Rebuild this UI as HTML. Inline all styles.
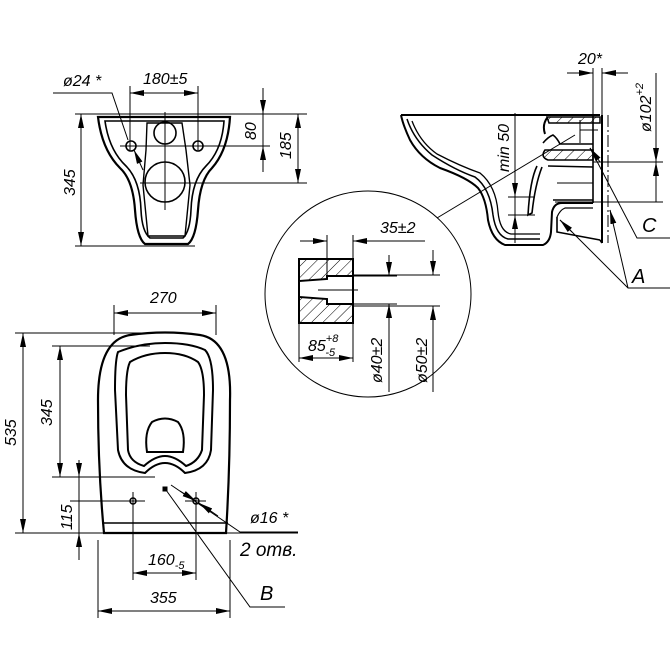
<!DOCTYPE html>
<html><head><meta charset="utf-8"><style>
html,body{margin:0;padding:0;background:#fff}
svg{display:block}
text{font-family:"Liberation Sans",sans-serif;font-style:italic;fill:#000}
</style></head><body>
<svg width="670" height="671" viewBox="0 0 670 671" xmlns="http://www.w3.org/2000/svg">
<defs>
<marker id="ar" markerWidth="14" markerHeight="6" refX="14" refY="3" orient="auto" markerUnits="userSpaceOnUse"><path d="M0,0 L14,3 L0,6 z" fill="#000"/></marker>
<marker id="al" markerWidth="14" markerHeight="6" refX="0" refY="3" orient="auto" markerUnits="userSpaceOnUse"><path d="M14,0 L0,3 L14,6 z" fill="#000"/></marker>
<pattern id="h" width="8" height="8" patternUnits="userSpaceOnUse" patternTransform="rotate(45)"><line x1="0" y1="0" x2="0" y2="8" stroke="#000" stroke-width="1"/></pattern>
</defs>
<g fill="none" stroke="#000" stroke-width="1">
<!-- TOP-LEFT VIEW -->
<line x1="75" y1="114" x2="307" y2="114"/>
<line x1="75" y1="246" x2="195" y2="246"/>
<line x1="81" y1="114" x2="81" y2="246" marker-start="url(#al)" marker-end="url(#ar)"/>
<line x1="130" y1="86" x2="130" y2="150"/><line x1="198" y1="86" x2="198" y2="150"/>
<line x1="130" y1="93" x2="198" y2="93" marker-start="url(#al)" marker-end="url(#ar)"/>
<polyline points="53,93 112,93 128,140"/>
<line x1="134" y1="150" x2="143" y2="170" marker-start="url(#al)"/>
<path d="M98,117 L230,117 Q228,150 212,168 Q200,180 198,210 Q196,238 188,244 L145,244 Q137,238 135,210 Q133,180 120,168 Q102,150 98,117 Z" stroke-width="2.2"/>
<path d="M105,121 L224,121 Q222,150 206,166 Q192,180 191,210 Q190,232 183,238 L150,238 Q142,232 141,210 Q140,180 126,166 Q109,150 105,121 Z" stroke-width="1.6"/>
<path d="M147,123 L182,123 L186,150 L190,185 L185,236 L148,236 L143,185 L146,150 Z" stroke-width="1.4"/>
<circle cx="131" cy="146" r="5" stroke-width="1.6"/><circle cx="198" cy="146" r="5" stroke-width="1.6"/>
<circle cx="165" cy="133" r="11" stroke-width="1.6"/><circle cx="165" cy="182" r="20" stroke-width="1.6"/>
<line x1="120" y1="146" x2="270" y2="146"/><line x1="165" y1="112" x2="165" y2="210"/>
<line x1="140" y1="183" x2="307" y2="183"/>
<line x1="263" y1="88" x2="263" y2="114" marker-end="url(#ar)"/>
<line x1="263" y1="172" x2="263" y2="146" marker-end="url(#ar)"/>
<line x1="263" y1="114" x2="263" y2="146"/>
<line x1="298" y1="114" x2="298" y2="183" marker-start="url(#al)" marker-end="url(#ar)"/>

<!-- SIDE VIEW -->
<line x1="401" y1="115" x2="600" y2="115" stroke-width="2"/>
<path d="M401,115 Q403,125 410,140 Q420,158 440,168 Q468,178 478,188 Q486,198 488,220 Q492,240 505,245 L543,245 Q550,242 551,232 L552,212 Q554,203 562,203 L593,203" stroke-width="2"/>
<path d="M407,119 Q414,140 432,155 Q455,170 475,177 Q490,188 493,215 Q496,236 508,239 L540,239" stroke-width="1.5"/>
<path d="M412,121 Q420,142 437,154 Q460,166 480,173 Q496,186 498,212 Q500,232 511,234 L540,234" stroke-width="1.3"/>
<path d="M557,217 L557,232 L600,240" stroke-width="1.6"/>
<path d="M557,217 Q560,210 565,208 L593,208" stroke-width="1.2"/>
<line x1="602" y1="115" x2="602" y2="243" stroke-width="2"/>
<line x1="593" y1="115" x2="593" y2="203" stroke-width="1.6"/>
<line x1="600" y1="240" x2="602" y2="243" stroke-width="1.6"/>
<line x1="608" y1="115" x2="608" y2="243" stroke-dasharray="12,3,2,3"/>
<!-- upper pipe band -->
<path d="M547,117 L600,117 L600,123 L549,123 Z" fill="url(#h)" stroke-width="1.5"/>
<path d="M547,118 Q542,125 545,134" stroke-width="2"/>
<path d="M543,143 Q548,137 553,135 Q557,138 560,144 L593,144" stroke-width="1.6"/>
<path d="M545,150 L593,150 L593,160 L548,160 Q540,157 545,150 Z" fill="url(#h)" stroke-width="1.6"/>
<line x1="548" y1="166" x2="593" y2="167" stroke-width="1.4"/>
<path d="M537,166 Q530,180 528,215 L532,213 Q535,185 542,167" stroke-width="1.6"/>
<line x1="580" y1="120" x2="580" y2="143"/><line x1="580" y1="130" x2="598" y2="130"/>
<line x1="553" y1="200" x2="593" y2="200" stroke-width="1.4"/>
<line x1="557" y1="183" x2="593" y2="183"/>
<line x1="593" y1="68" x2="593" y2="115"/><line x1="602" y1="68" x2="602" y2="115"/>
<line x1="567" y1="73" x2="593" y2="73" marker-end="url(#ar)"/>
<line x1="628" y1="73" x2="602" y2="73" marker-end="url(#ar)"/>
<line x1="593" y1="162" x2="663" y2="162"/><line x1="555" y1="202" x2="663" y2="202"/>
<line x1="656" y1="73" x2="656" y2="162" marker-end="url(#ar)"/>
<line x1="656" y1="202" x2="656" y2="162" marker-end="url(#ar)"/>
<line x1="515" y1="113" x2="515" y2="243"/>
<line x1="515" y1="175" x2="515" y2="197" marker-end="url(#ar)"/>
<line x1="515" y1="232" x2="515" y2="215" marker-end="url(#ar)"/>
<line x1="508" y1="197" x2="535" y2="197"/><line x1="508" y1="215" x2="535" y2="215"/>
<polyline points="590,148 637,238 670,238"/>
<line x1="590" y1="148" x2="600" y2="162" marker-start="url(#al)"/>
<polyline points="560,220 628,288 670,288"/><polyline points="610,210 628,288"/>
<line x1="560" y1="220" x2="572" y2="232" marker-start="url(#al)"/>
<line x1="610" y1="210" x2="613" y2="222" marker-start="url(#al)"/>

<!-- DETAIL CIRCLE -->
<circle cx="368" cy="294" r="103"/>
<line x1="437" y1="218" x2="575" y2="135"/>
<rect x="299" y="259" width="54" height="64" fill="url(#h)" stroke-width="2"/>
<path d="M327,276 L353,276 L353,304 L327,304 L327,299 L299,297 L299,281 L327,279 Z" fill="#fff" stroke-width="2"/>
<line x1="318" y1="290" x2="358" y2="290"/>
<line x1="353" y1="276" x2="397" y2="276"/><line x1="353" y1="304" x2="397" y2="304"/>
<line x1="353" y1="275" x2="440" y2="275"/><line x1="353" y1="306" x2="440" y2="306"/>
<line x1="327" y1="235" x2="327" y2="276"/><line x1="353" y1="235" x2="353" y2="259"/>
<line x1="300" y1="241" x2="327" y2="241" marker-end="url(#ar)"/>
<line x1="425" y1="241" x2="353" y2="241" marker-end="url(#ar)"/>
<line x1="299" y1="323" x2="299" y2="362"/><line x1="353" y1="323" x2="353" y2="362"/>
<line x1="299" y1="358" x2="353" y2="358" marker-start="url(#al)" marker-end="url(#ar)"/>
<line x1="389" y1="255" x2="389" y2="276" marker-end="url(#ar)"/>
<line x1="389" y1="392" x2="389" y2="304" marker-end="url(#ar)"/>
<line x1="433" y1="250" x2="433" y2="275" marker-end="url(#ar)"/>
<line x1="433" y1="392" x2="433" y2="306" marker-end="url(#ar)"/>

<!-- BOTTOM VIEW -->
<line x1="114" y1="305" x2="114" y2="335"/><line x1="216" y1="305" x2="216" y2="335"/>
<line x1="114" y1="313" x2="216" y2="313" marker-start="url(#al)" marker-end="url(#ar)"/>
<path d="M104,533 Q98,470 98,400 Q98,340 130,335 Q165,330 200,335 Q232,340 230,400 Q230,470 226,533 Z" stroke-width="2.2"/>
<line x1="102" y1="523" x2="228" y2="523" stroke-width="1.5"/>
<path d="M118,352 Q140,343 165,343 Q190,343 205,350 Q213,358 213,390 L211,450 Q208,470 185,473 Q175,463 165,463 Q155,463 145,473 Q122,470 118,450 L115,390 Q115,360 118,352 Z" stroke-width="2"/>
<path d="M130,362 Q145,353 165,353 Q185,353 198,362 Q204,370 204,395 L202,450 Q198,462 186,466 Q175,456 165,456 Q155,456 144,466 Q130,462 128,450 L126,395 Q126,370 130,362 Z" stroke-width="2"/>
<path d="M152,422 Q165,415 178,422 Q186,432 183,452 L147,452 Q144,432 152,422 Z" stroke-width="2"/>
<line x1="15" y1="333" x2="150" y2="333"/><line x1="15" y1="533" x2="298" y2="533"/>
<line x1="23" y1="333" x2="23" y2="533" marker-start="url(#al)" marker-end="url(#ar)"/>
<line x1="52" y1="346" x2="150" y2="346"/><line x1="52" y1="477" x2="155" y2="477"/>
<line x1="60" y1="346" x2="60" y2="477" marker-start="url(#al)" marker-end="url(#ar)"/>
<line x1="70" y1="501" x2="145" y2="501"/><line x1="185" y1="501" x2="206" y2="501"/>
<line x1="79" y1="460" x2="79" y2="477" marker-end="url(#ar)"/>
<line x1="79" y1="560" x2="79" y2="533" marker-end="url(#ar)"/>
<line x1="79" y1="477" x2="79" y2="533"/>
<circle cx="133" cy="501" r="3" stroke-width="1.5"/><circle cx="196" cy="501" r="3" stroke-width="1.5"/>
<line x1="133" y1="492" x2="133" y2="580"/><line x1="196" y1="492" x2="196" y2="580"/>
<rect x="163" y="487" width="4" height="4" fill="#000"/>
<line x1="133" y1="573" x2="196" y2="573" marker-start="url(#al)" marker-end="url(#ar)"/>
<line x1="98" y1="540" x2="98" y2="618"/><line x1="230" y1="540" x2="230" y2="618"/>
<line x1="98" y1="611" x2="230" y2="611" marker-start="url(#al)" marker-end="url(#ar)"/>
<polyline points="171,485 240,532 298,532"/>
<line x1="180" y1="491" x2="196" y2="501" marker-end="url(#ar)"/>
<line x1="218" y1="516" x2="199" y2="503" marker-end="url(#ar)"/>
<polyline points="166,490 250,607 285,607"/>
</g>
<g font-size="16">
<text x="63" y="86">ø24 *</text>
<text x="143" y="84">180±5</text>
<text transform="translate(75,196) rotate(-90)">345</text>
<text transform="translate(256,140) rotate(-90)">80</text>
<text transform="translate(291,159) rotate(-90)">185</text>
<text x="578" y="64">20*</text>
<text transform="translate(651,132) rotate(-90)">ø102<tspan font-size="11" dy="-8">+2</tspan></text>
<text transform="translate(509,172) rotate(-90)">min 50</text>
<text x="642" y="232" font-size="20">C</text>
<text x="632" y="283" font-size="20">A</text>
<text x="380" y="233">35±2</text>
<text x="308" y="351">85<tspan font-size="11" dy="-9">+8</tspan><tspan font-size="11" dx="-13" dy="14">-5</tspan></text>
<text transform="translate(382,383) rotate(-90)">ø40±2</text>
<text transform="translate(427,383) rotate(-90)">ø50±2</text>
<text x="150" y="303">270</text>
<text transform="translate(16,446) rotate(-90)">535</text>
<text transform="translate(52,426) rotate(-90)">345</text>
<text transform="translate(72,530) rotate(-90)">115</text>
<text x="148" y="565">160<tspan font-size="11" dy="4">-5</tspan></text>
<text x="150" y="603">355</text>
<text x="250" y="523">ø16 *</text>
<text x="240" y="556" font-size="19">2 отв.</text>
<text x="260" y="600" font-size="20">B</text>
</g>
</svg>
</body></html>
